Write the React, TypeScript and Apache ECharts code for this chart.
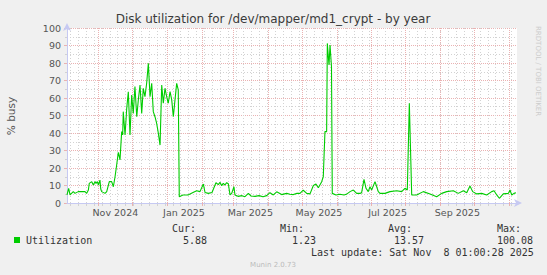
import React, { useEffect, useRef } from "react";
import * as echarts from "echarts";

// ---- data ----
// day offsets from Oct 4 2024 (x range = 400 days, ending Nov 8 2025)
const days = [
  0, 1.5, 2.7, 5.6, 7.1, 10, 16, 17.5, 19, 19.8,
  22, 23.4, 24.9, 25.8, 27, 27.9, 29.3, 30, 30.8, 33.8,
  35.3, 37.6, 39.7, 41.2, 42.7, 44.2, 45.6, 47.1, 48.6, 49.5,
  50, 51.6, 53.1, 54.5, 56, 57.5, 58.9, 60.4, 62, 63.4,
  64.9, 66.4, 67.8, 69.3, 70.8, 72.3, 73.8, 75.3, 76.7, 78.2,
  79.7, 81.2, 82.7, 84.2, 85.6, 87.1, 88.6, 90, 91.6, 93.1,
  94.5, 96, 97.5, 98.9, 99.8,
  103.1, 107.6, 112, 115.3, 118.2, 121.2, 122.7, 125.6, 128.9, 132.4,
  134.5, 136, 137.5, 138.9, 140.4, 141.9, 143.4, 144.9, 146.4, 148.4,
  149.3, 152, 155.6, 158.2, 161.2, 163.6, 167.1, 170.7, 174.2, 177.5,
  180.4, 183.4, 186.4, 190.8, 195.3, 198.2, 201.2, 204.4, 207.1, 210,
  213.1, 216, 219, 221.3, 223.4, 226.4, 227.8, 229.3, 230.8, 231.4,
  232.3, 232.9, 233.8, 235.1, 235.8, 239.1, 242.7, 246.2, 248.9, 251.6,
  254.5, 257.5, 260.4, 261.9, 264, 265.8, 267.8, 269.3, 270.8, 273.8,
  275.3, 276.7, 278.2, 282.7, 287.1, 293.1, 297.5, 300.4, 302.5, 304.3,
  306.4, 310.8, 316.7, 322.7, 328.6, 333.1, 337.5, 343.4, 347.8, 352.3,
  355.3, 358.2, 360.6, 364.2, 368.6, 373.1, 377.5, 379.6, 382, 384.3,
  387.8, 392.3, 393.8, 395.3, 397.3, 399.1,
];
const busy = [
  4.6, 8.4, 4.6, 6.5, 5.5, 6.5, 6.5, 5.5, 7.4, 11.2,
  12.2, 10.3, 12.2, 11.2, 12.2, 10.3, 13.1, 8, 6.5, 5.5,
  6.5, 12.2, 12.2, 9.3, 15, 22, 29, 24.6, 40.8, 38.9,
  52.2, 38.9, 54.1, 63.6, 38.9, 61.7, 51.2, 66.5, 49.3, 58.9,
  67.4, 51.2, 65.5, 60.8, 68.4, 79.8, 60.8, 68.4, 52.2, 49.3,
  45.5, 39.8, 33.1, 67.4, 57, 65.5, 60.8, 57, 63.6, 58.9,
  49.3, 58.9, 68.4, 64.6, 3.6,
  4.6, 4.6, 6, 7, 6.5, 10.8, 6, 5.5, 6, 11.6,
  10.5, 11.8, 9.9, 11.2, 10.3, 11.6, 11, 4.6, 5.5, 9.3,
  4.6, 3.8, 4.2, 3.6, 5.5, 4, 3.8, 4.2, 3.6, 4.2,
  5.9, 4.6, 6.4, 4.8, 5.5, 5, 4.8, 5.5, 5.5, 7.3,
  5.5, 5.2, 10, 10.8, 8.7, 12.2, 15, 40.8, 40.8, 91.2,
  83.6, 78.9, 90.3, 78, 5.5, 4.6, 5, 4.6, 5.2, 6.5,
  7.4, 5.5, 5.5, 5.9, 13.5, 8.4, 6.5, 9.3, 7.4, 12.2,
  9.3, 6.5, 5.5, 5.5, 6.5, 7, 6.5, 8.4, 7.4, 57,
  4.6, 4.6, 6.5, 5.2, 3.6, 5.5, 6.5, 7, 5.5, 7,
  5.9, 9.7, 6.5, 5.2, 5.5, 4.6, 6.5, 7, 4.6, 2.7,
  5.2, 5.5, 7.4, 4.6, 5.5, 5.9,
];

const startYear = 2024;
const startMonth = 9; // October (0-based)
const startDay = 4;
const totalDays = 400;

const xLabelDates = ["2024-11-16", "2025-01-16", "2025-03-16", "2025-05-16", "2025-07-16", "2025-09-16"];
const xLabelTexts = ["Nov 2024", "Jan 2025", "Mar 2025", "May 2025", "Jul 2025", "Sep 2025"];

const titleText = "Disk utilization for /dev/mapper/md1_crypt - by year";
const yAxisTitle = "% busy";
const seriesName = "Utilization";
const statHeads = ["Cur:", "Min:", "Avg:", "Max:"];
const statValues = ["5.88", "1.23", "13.57", "100.08"];
const lastUpdate = "Last update: Sat Nov  8 01:00:28 2025";
const footer = "Munin 2.0.73";
const sideText = "RRDTOOL / TOBI OETIKER";

const pad = (n: number) => (n < 10 ? "0" + n : "" + n);
const categories: string[] = [];
const weekdays: number[] = [];
for (let i = 0; i <= totalDays; i++) {
  const d = new Date(Date.UTC(startYear, startMonth, startDay + i));
  categories.push(d.getUTCFullYear() + "-" + pad(d.getUTCMonth() + 1) + "-" + pad(d.getUTCDate()));
  weekdays.push(d.getUTCDay());
}

const isMonthStart = (i: number) => categories[i].endsWith("-01");
const isMonday = (i: number) => weekdays[i] === 1;

const MAJOR = "#eab2b2";
const MINOR = "#d2d2d2";
const AXIS = "#c6c9f2";
const SANS = "DejaVu Sans";
const MONO = "DejaVu Sans Mono";

export default function App() {
  const ref = useRef<HTMLDivElement>(null);
  useEffect(() => {
    if (!ref.current) return;
    const chart = echarts.init(ref.current, undefined, { renderer: "svg" });
    const seriesData = days.map((d, i) => [d, busy[i]]);
    const statX = [172, 280, 388, 497];
    const valX = [183, 292, 394, 497];
    const graphics: any[] = [
      {
        type: "text", x: 273, y: 19,
        style: { text: titleText, fill: "#3a3a3a", font: `12px '${SANS}'`, textAlign: "center", textVerticalAlign: "middle", align: "center", verticalAlign: "middle" },
      },
      {
        type: "text", x: 11, y: 116, rotation: Math.PI / 2,
        style: { text: yAxisTitle, fill: "#555", font: `10.5px '${SANS}'`, textAlign: "center", textVerticalAlign: "middle", align: "center", verticalAlign: "middle" },
      },
      {
        type: "text", x: 538, y: 26, rotation: -Math.PI / 2,
        style: { text: sideText, fill: "#cccccc", font: `7px '${SANS}'`, textAlign: "left", textVerticalAlign: "middle", align: "left", verticalAlign: "middle" },
      },
      { type: "rect", shape: { x: 14, y: 237, width: 6, height: 6 }, style: { fill: "#00cc00" } },
      {
        type: "text", x: 26, y: 240,
        style: { text: seriesName, fill: "#333", font: `10px '${MONO}'`, textAlign: "left", textVerticalAlign: "middle", align: "left", verticalAlign: "middle" },
      },
      {
        type: "text", x: 311, y: 252,
        style: { text: lastUpdate, fill: "#333", font: `10px '${MONO}'`, textAlign: "left", textVerticalAlign: "middle", align: "left", verticalAlign: "middle" },
      },
      {
        type: "text", x: 273, y: 265,
        style: { text: footer, fill: "#bbbbbb", font: `7px '${SANS}'`, textAlign: "center", textVerticalAlign: "middle", align: "center", verticalAlign: "middle" },
      },
    ];
    statHeads.forEach((h, i) => {
      graphics.push({
        type: "text", x: statX[i], y: 228,
        style: { text: h, fill: "#333", font: `10px '${MONO}'`, textAlign: "left", textVerticalAlign: "middle", align: "left", verticalAlign: "middle" },
      });
      graphics.push({
        type: "text", x: valX[i], y: 240,
        style: { text: statValues[i], fill: "#333", font: `10px '${MONO}'`, textAlign: "left", textVerticalAlign: "middle", align: "left", verticalAlign: "middle" },
      });
    });

    chart.setOption({
      animation: false,
      backgroundColor: "#f0f0f0",
      grid: { left: 67, top: 28, width: 450, height: 175, show: true, backgroundColor: "#ffffff", borderWidth: 0 },
      xAxis: [
        {
          type: "category",
          data: categories,
          boundaryGap: false,
          position: "bottom",
          z: 1,
          axisLine: { show: false },
          axisTick: { show: true, length: 3, interval: (i: number) => isMonday(i), lineStyle: { color: MINOR } },
          axisLabel: { show: false },
          splitLine: { show: true, interval: (i: number) => isMonday(i), lineStyle: { color: MINOR, type: [1, 2], width: 1 } },
        },
        {
          type: "category",
          data: categories,
          boundaryGap: false,
          position: "bottom",
          z: 2,
          axisLine: { show: true, lineStyle: { color: AXIS, width: 1 }, symbol: ["none", "arrow"], symbolSize: [6, 8], symbolOffset: [0, 5] },
          axisTick: { show: true, length: 3, interval: (i: number) => isMonthStart(i), lineStyle: { color: MAJOR } },
          axisLabel: {
            show: true,
            interval: (i: number, v: string) => xLabelDates.indexOf(v) >= 0,
            formatter: (v: string) => { const k = xLabelDates.indexOf(v); return k >= 0 ? xLabelTexts[k] : ""; },
            color: "#555", fontFamily: SANS, fontSize: 9.5, margin: 4,
          },
          splitLine: { show: true, interval: (i: number) => isMonthStart(i), lineStyle: { color: MAJOR, type: [1, 1], width: 1 } },
        },
        { type: "value", min: 0, max: totalDays, show: false },
      ],
      yAxis: {
        type: "value",
        min: 0,
        max: 100,
        interval: 10,
        axisLine: { show: true, lineStyle: { color: AXIS, width: 1 }, symbol: ["none", "arrow"], symbolSize: [6, 8], symbolOffset: [0, 5] },
        axisTick: { show: true, length: 3, lineStyle: { color: MAJOR } },
        minorTick: { show: true, splitNumber: 2, length: 2, lineStyle: { color: MINOR } },
        minorSplitLine: { show: true, lineStyle: { color: MINOR, type: [1, 2], width: 1 } },
        splitLine: { show: true, lineStyle: { color: MAJOR, type: [1, 1], width: 1 } },
        axisLabel: { color: "#555", fontFamily: SANS, fontSize: 9.5, margin: 6 },
      },
      series: [
        {
          name: seriesName,
          type: "line",
          xAxisIndex: 2,
          data: seriesData,
          symbol: "none",
          lineStyle: { color: "#00cc00", width: 1.1 },
          z: 5,
        },
      ],
      graphic: graphics,
    });
    return () => chart.dispose();
  }, []);
  return <div ref={ref} style={{ position: "absolute", left: 0, top: 0, width: 547, height: 275 }} />;
}
